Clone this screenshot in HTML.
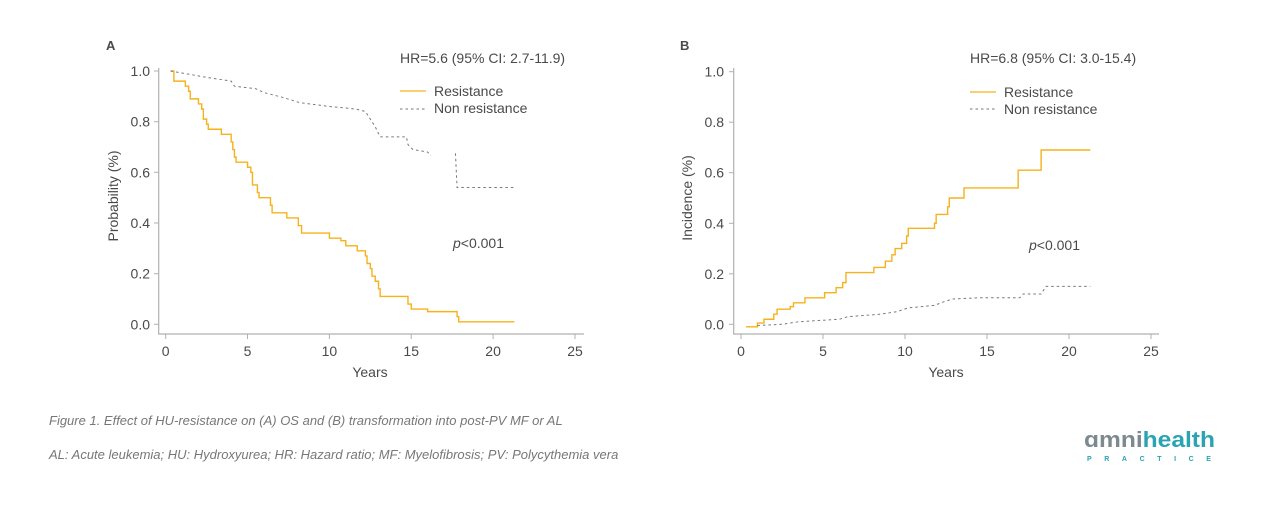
<!DOCTYPE html>
<html><head><meta charset="utf-8"><style>
html,body{margin:0;padding:0;background:#fff;}
svg text{font-family:"Liberation Sans",sans-serif;}
</style></head><body>
<svg width="1266" height="505" viewBox="0 0 1266 505" xmlns="http://www.w3.org/2000/svg">
<g fill="#4a4a4a" font-size="14">
<!-- Chart A -->
<text x="106" y="50" font-weight="bold" font-size="13">A</text>
<line x1="158.7" y1="68" x2="158.7" y2="334" stroke="#b0b0b0" stroke-width="1.2"/>
<line x1="158" y1="334" x2="584" y2="334" stroke="#b0b0b0" stroke-width="1.2"/>
<g stroke="#b0b0b0" stroke-width="1">
<line x1="154" y1="71" x2="158.7" y2="71"/><line x1="154" y1="121.7" x2="158.7" y2="121.7"/><line x1="154" y1="172.3" x2="158.7" y2="172.3"/><line x1="154" y1="223" x2="158.7" y2="223"/><line x1="154" y1="273.7" x2="158.7" y2="273.7"/><line x1="154" y1="324.3" x2="158.7" y2="324.3"/>
<line x1="165.7" y1="334" x2="165.7" y2="339"/><line x1="247.5" y1="334" x2="247.5" y2="339"/><line x1="329.4" y1="334" x2="329.4" y2="339"/><line x1="411.2" y1="334" x2="411.2" y2="339"/><line x1="493.1" y1="334" x2="493.1" y2="339"/><line x1="575" y1="334" x2="575" y2="339"/>
</g>
<g text-anchor="end"><text x="150" y="76">1.0</text><text x="150" y="126.7">0.8</text><text x="150" y="177.3">0.6</text><text x="150" y="228">0.4</text><text x="150" y="278.7">0.2</text><text x="150" y="329.3">0.0</text></g>
<g text-anchor="middle"><text x="165.7" y="356">0</text><text x="247.5" y="356">5</text><text x="329.4" y="356">10</text><text x="411.2" y="356">15</text><text x="493.1" y="356">20</text><text x="575" y="356">25</text>
<text x="370" y="377">Years</text>
<text transform="translate(118,196) rotate(-90)">Probability (%)</text></g>
<text x="400" y="63">HR=5.6 (95% CI: 2.7-11.9)</text>
<line x1="400" y1="91" x2="426" y2="91" stroke="#f5b21d" stroke-width="1.3"/>
<text x="434" y="96">Resistance</text>
<line x1="400" y1="109" x2="426" y2="109" stroke="#777" stroke-width="1" stroke-dasharray="2.5,3"/>
<text x="434" y="113">Non resistance</text>
<text x="453" y="248"><tspan font-style="italic">p</tspan>&lt;0.001</text>
<!-- Chart B -->
<text x="680" y="50" font-weight="bold" font-size="13">B</text>
<line x1="733.7" y1="68" x2="733.7" y2="334" stroke="#b0b0b0" stroke-width="1.2"/>
<line x1="733" y1="334" x2="1159" y2="334" stroke="#b0b0b0" stroke-width="1.2"/>
<g stroke="#b0b0b0" stroke-width="1">
<line x1="729" y1="71.7" x2="733.7" y2="71.7"/><line x1="729" y1="122.2" x2="733.7" y2="122.2"/><line x1="729" y1="172.7" x2="733.7" y2="172.7"/><line x1="729" y1="223.3" x2="733.7" y2="223.3"/><line x1="729" y1="273.8" x2="733.7" y2="273.8"/><line x1="729" y1="324.3" x2="733.7" y2="324.3"/>
<line x1="741" y1="334" x2="741" y2="339"/><line x1="823" y1="334" x2="823" y2="339"/><line x1="905" y1="334" x2="905" y2="339"/><line x1="987" y1="334" x2="987" y2="339"/><line x1="1069" y1="334" x2="1069" y2="339"/><line x1="1151" y1="334" x2="1151" y2="339"/>
</g>
<g text-anchor="end"><text x="724" y="76.7">1.0</text><text x="724" y="127.2">0.8</text><text x="724" y="177.7">0.6</text><text x="724" y="228.3">0.4</text><text x="724" y="278.8">0.2</text><text x="724" y="329.3">0.0</text></g>
<g text-anchor="middle"><text x="741" y="356">0</text><text x="823" y="356">5</text><text x="905" y="356">10</text><text x="987" y="356">15</text><text x="1069" y="356">20</text><text x="1151" y="356">25</text>
<text x="946" y="377">Years</text>
<text transform="translate(692,198) rotate(-90)">Incidence (%)</text></g>
<text x="970" y="63">HR=6.8 (95% CI: 3.0-15.4)</text>
<line x1="970" y1="92" x2="996" y2="92" stroke="#f5b21d" stroke-width="1.3"/>
<text x="1004" y="97">Resistance</text>
<line x1="970" y1="109" x2="996" y2="109" stroke="#777" stroke-width="1" stroke-dasharray="2.5,3"/>
<text x="1004" y="114">Non resistance</text>
<text x="1029" y="250"><tspan font-style="italic">p</tspan>&lt;0.001</text>
</g>
<!-- Curves A -->
<g transform="translate(165.7,324.3) scale(16.37,-253.3)" fill="none">
<polyline vector-effect="non-scaling-stroke" stroke="#f5b21d" stroke-width="1.4" points="0.3,1 0.5,1 0.5,0.96 1.2,0.96 1.2,0.94 1.4,0.94 1.4,0.92 1.5,0.92 1.5,0.89 2.0,0.89 2.0,0.87 2.2,0.87 2.2,0.85 2.3,0.85 2.3,0.81 2.5,0.81 2.5,0.79 2.6,0.79 2.6,0.77 3.4,0.77 3.4,0.75 4.0,0.75 4.0,0.72 4.1,0.72 4.1,0.69 4.2,0.69 4.2,0.66 4.3,0.66 4.3,0.64 5.0,0.64 5.0,0.62 5.2,0.62 5.2,0.6 5.3,0.6 5.3,0.55 5.6,0.55 5.6,0.52 5.7,0.52 5.7,0.5 6.4,0.5 6.4,0.47 6.5,0.47 6.5,0.44 7.4,0.44 7.4,0.42 8.1,0.42 8.1,0.39 8.3,0.39 8.3,0.36 10.0,0.36 10.0,0.34 10.7,0.34 10.7,0.33 11.0,0.33 11.0,0.31 11.7,0.31 11.7,0.29 12.2,0.29 12.2,0.27 12.3,0.27 12.3,0.24 12.5,0.24 12.5,0.22 12.6,0.22 12.6,0.19 12.8,0.19 12.8,0.17 13.0,0.17 13.0,0.14 13.1,0.14 13.1,0.11 14.8,0.11 14.8,0.08 15.0,0.08 15.0,0.06 16.0,0.06 16.0,0.05 17.8,0.05 17.8,0.03 17.9,0.03 17.9,0.01 21.3,0.01"/>
<polyline vector-effect="non-scaling-stroke" stroke="#777" stroke-width="1" stroke-dasharray="2.5,3" points="0.3,1 2.5,0.975 4,0.96 4.2,0.94 5.5,0.93 6,0.915 7.2,0.895 8.2,0.875 10,0.86 11.6,0.85 12.2,0.84 12.8,0.78 13.1,0.74 14.7,0.74 14.8,0.71 15.1,0.69 16,0.68 16.2,0.665"/>
<polyline vector-effect="non-scaling-stroke" stroke="#777" stroke-width="1" stroke-dasharray="2.5,3" points="17.7,0.675 17.8,0.54 21.3,0.54"/>
</g>
<!-- Curves B -->
<g transform="translate(741,324.3) scale(16.4,-252.6)" fill="none">
<polyline vector-effect="non-scaling-stroke" stroke="#f5b21d" stroke-width="1.4" points="0.3,-0.01 1.0,-0.01 1.0,0.005 1.4,0.005 1.4,0.02 2.0,0.02 2.0,0.04 2.2,0.04 2.2,0.06 3.0,0.06 3.0,0.07 3.2,0.07 3.2,0.085 3.9,0.085 3.9,0.105 5.1,0.105 5.1,0.125 5.8,0.125 5.8,0.145 6.2,0.145 6.2,0.165 6.4,0.165 6.4,0.205 8.1,0.205 8.1,0.225 8.8,0.225 8.8,0.25 9.2,0.25 9.2,0.275 9.4,0.275 9.4,0.3 9.8,0.3 9.8,0.32 10.1,0.32 10.1,0.35 10.2,0.35 10.2,0.38 11.8,0.38 11.8,0.4 11.9,0.4 11.9,0.435 12.6,0.435 12.6,0.465 12.7,0.465 12.7,0.5 13.6,0.5 13.6,0.54 16.9,0.54 16.9,0.61 18.3,0.61 18.3,0.69 21.3,0.69"/>
<polyline vector-effect="non-scaling-stroke" stroke="#777" stroke-width="1" stroke-dasharray="2.5,3" points="1,-0.005 2.5,0 3.5,0.01 6,0.02 6.5,0.03 8.5,0.04 9.5,0.05 10.2,0.065 11.8,0.075 12.4,0.09 12.9,0.1 14.5,0.105 17,0.105 17.2,0.12 18.3,0.12 18.6,0.15 21.3,0.15"/>
</g>
<!-- Caption -->
<g fill="#777" font-size="13" font-style="italic">
<text x="49" y="425">Figure 1. Effect of HU-resistance on (A) OS and (B) transformation into post-PV MF or AL</text>
<text x="49" y="459">AL: Acute leukemia; HU: Hydroxyurea; HR: Hazard ratio; MF: Myelofibrosis; PV: Polycythemia vera</text>
</g>
<!-- Logo -->
<text x="1084" y="447" font-size="22" font-weight="bold" fill="#2aa3b3" textLength="131" lengthAdjust="spacingAndGlyphs"><tspan fill="#7c8a90">ɑmni</tspan>health</text>
<text x="1087" y="461" font-size="7" font-weight="bold" fill="#2aa3b3" letter-spacing="12.6">PRACTICE</text>
</svg>
</body></html>
